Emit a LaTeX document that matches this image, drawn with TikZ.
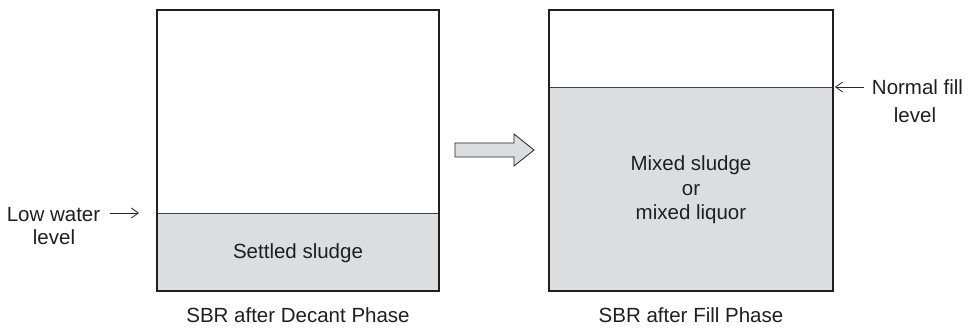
\documentclass[tikz,border=0pt]{standalone}
\usepackage{fontspec}
\setmainfont{Liberation Sans}
\usetikzlibrary{arrows.meta}
\begin{document}
\begin{tikzpicture}[x=1pt,y=-1pt,
  tank/.style={draw=black!88,line width=1.8pt},
  levelline/.style={draw=black!75,line width=0.9pt},
  label/.style={font=\fontsize{20.5}{24.5}\selectfont,text=black!88,inner sep=0pt,anchor=base},
  pointer/.style={draw=black!85,line width=0.8pt,-{Straight Barb[length=7pt,width=10pt]}}
]
\definecolor{sludgegray}{HTML}{DCDDDF}
\useasboundingbox (0,0) rectangle (969,328);

% left tank: after decant
\coordinate (L1) at (157,10);
\coordinate (L2) at (439,291);
\fill[sludgegray] (157,213) rectangle (439,291);
\draw[levelline] (157,213) coordinate (lowL) -- (439,213);
\draw[tank] (L1) rectangle (L2);
\node[label] (settled) at (298,259) {Settled sludge};
\node[label] (capL) at (298,323) {SBR after Decant Phase};

% right tank: after fill
\coordinate (R1) at (549,10);
\coordinate (R2) at (833,291);
\fill[sludgegray] (549,87) rectangle (833,291);
\draw[levelline] (549,87) -- (833,87) coordinate (fillR);
\draw[tank] (R1) rectangle (R2);
\node[label] (mixedA) at (691,171) {Mixed sludge};
\node[label] (mixedB) at (691,195.5) {or};
\node[label] (mixedC) at (691,220) {mixed liquor};
\node[label] (capR) at (691,323) {SBR after Fill Phase};

% transition arrow
\draw[fill=sludgegray,draw=black!85,line width=0.8pt]
  (455,143) -- (514,143) -- (514,134) -- (534,150) -- (514,166) -- (514,157) -- (455,157) -- cycle;

% level labels
\node[label] (lowtxt) at (53.5,222) {Low water};
\node[label] (lowtxt2) at (54,245) {level};
\coordinate (lowA) at (110,213);
\coordinate (lowB) at (139,213);
\draw[pointer] (lowA) -- (lowB);

\node[label] (filltxt) at (917.5,95) {Normal fill};
\node[label] (filltxt2) at (915,123) {level};
\coordinate (fillA) at (864,87);
\coordinate (fillB) at (835,87);
\draw[pointer] (fillA) -- (fillB);
\end{tikzpicture}
\end{document}
